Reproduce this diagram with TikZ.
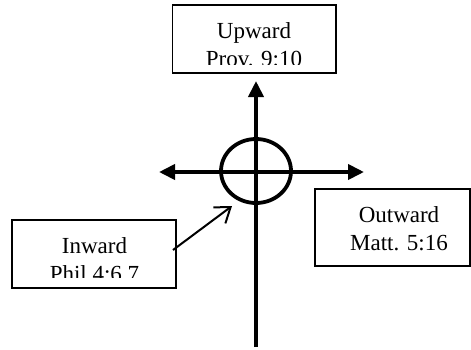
\documentclass[tikz,border=0pt]{standalone}
\usepackage{fontspec}
\setmainfont{Liberation Serif}
\usetikzlibrary{arrows.meta,shapes.geometric}
\begin{document}
\begin{tikzpicture}[x=1pt,y=-1pt,
  box/.style={draw, line width=1.6pt, inner sep=0pt},
  label/.style={font=\fontsize{23}{28}\selectfont, align=center, inner sep=0pt, anchor=base},
  axis/.style={line width=3.8pt},
  tip/.style={-{Triangle[length=16pt,width=15pt]}},
  thin arrow/.style={line width=2pt, -{Straight Barb[length=14pt,width=20pt]}}]
\useasboundingbox (0,0) rectangle (471,349);
% axes
\coordinate (top) at (256,81);
\coordinate (bottom) at (256,347);
\coordinate (left) at (159,172);
\coordinate (right) at (364,172);
\draw[axis, tip] (bottom) -- (top);
\draw[axis, {Triangle[length=16pt,width=15pt]}-{Triangle[length=16pt,width=15pt]}] (left) -- (right);
\node[draw, line width=3.8pt, ellipse, minimum width=70pt, minimum height=64pt, inner sep=0pt] (c) at (256,171) {};
% Upward box
\node[box, minimum width=163.5pt, minimum height=68pt] (up) at (254.25,39) {};
\begin{scope}
\clip (173,6) rectangle (335,64.5);
\node[label] (uptext) at (254,66) {Upward\\Prov. 9:10};
\end{scope}
% Inward box
\node[box, minimum width=164pt, minimum height=68pt] (in) at (94,254) {};
\begin{scope}
\clip (13,221) rectangle (175,277);
\node[label] (intext) at (94.5,281) {Inward\\Phil.4:6,7};
\end{scope}
% Outward box
\node[box, minimum width=155pt, minimum height=77pt] (out) at (392.5,227.5) {};
\node[label] (outtext) at (399,250) {Outward\\Matt. 5:16};
% inward arrow
\coordinate (a) at (173,250);
\coordinate (b) at (232,206);
\draw[thin arrow] (a) -- (b);
\end{tikzpicture}
\end{document}
